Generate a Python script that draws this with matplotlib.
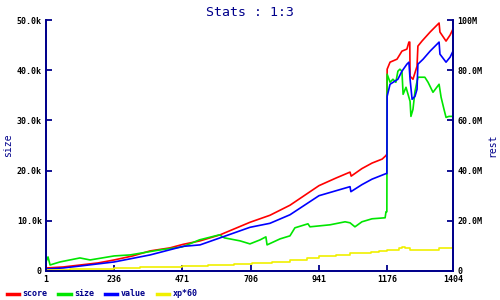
import matplotlib
matplotlib.use("Agg")
from matplotlib import pyplot as plt

# values (x = sample index, y in k)
score_x = [1, 60, 120, 180, 236, 300, 360, 428, 473, 532, 601, 704, 773, 842, 942, 1000, 1049, 1053,
           1090, 1125, 1160, 1173, 1176, 1177, 1187, 1211, 1228, 1245, 1252, 1255, 1256, 1266, 1280,
           1283, 1297, 1325, 1356, 1359, 1380, 1394, 1404]
score_y = [0.6, 0.8, 1.2, 1.6, 2.2, 3.0, 4.0, 4.6, 5.3, 6.0, 7.2, 9.7, 11.1, 13.1, 17.0, 18.5, 19.7, 18.9,
           20.4, 21.5, 22.3, 23.0, 23.3, 40.2, 41.6, 42.2, 43.8, 44.2, 45.6, 45.6, 38.8, 38.2, 40.8,
           44.8, 45.8, 47.6, 49.4, 47.6, 45.8, 47.0, 48.2]

size_x = [1, 8, 15, 49, 118, 153, 236, 291, 394, 471, 530, 599, 616, 670, 704, 739, 759, 763, 808, 842,
          859, 904, 911, 980, 1032, 1049, 1066, 1090, 1125, 1170, 1173, 1176, 1177, 1187, 1197, 1207,
          1214, 1221, 1228, 1232, 1242, 1249, 1256, 1259, 1266, 1273, 1283, 1307, 1318, 1335, 1356,
          1363, 1373, 1380, 1390, 1404]
size_y = [1.8, 2.8, 1.2, 1.8, 2.6, 2.2, 3.0, 3.2, 4.2, 4.8, 6.2, 7.2, 6.6, 6.0, 5.4, 6.2, 6.8, 5.2, 6.4, 7.0,
          8.6, 9.4, 8.8, 9.2, 9.8, 9.6, 8.8, 9.8, 10.4, 10.6, 11.8, 11.8, 39.2, 37.6, 38.2, 37.6,
          39.8, 40.2, 39.8, 35.2, 36.6, 35.2, 33.8, 30.8, 32.2, 35.8, 38.6, 38.6, 37.6, 35.6, 37.2,
          34.6, 32.2, 30.6, 30.8, 30.8]

value_x = [1, 60, 120, 236, 360, 473, 532, 601, 704, 773, 842, 942, 1049, 1052, 1090, 1125, 1173, 1176,
           1177, 1187, 1214, 1228, 1245, 1252, 1256, 1263, 1273, 1280, 1283, 1301, 1325, 1356, 1359,
           1380, 1394, 1404]
value_y = [0.4, 0.6, 1.0, 1.8, 3.2, 4.9, 5.2, 6.6, 8.7, 9.5, 11.2, 15.0, 16.8, 15.8, 17.2, 18.3, 19.4, 19.4,
           34.8, 37.2, 38.2, 39.8, 41.2, 41.6, 38.2, 34.2, 34.8, 36.2, 41.2, 42.2, 43.8, 45.6, 43.2,
           41.6, 42.6, 43.8]

xp_x = [1, 84, 236, 325, 471, 560, 650, 711, 780, 842, 900, 942, 1000, 1049, 1120, 1150, 1176, 1218,
        1228, 1238, 1256, 1356, 1404]
xp_y = [0.2, 0.4, 0.6, 0.8, 1.0, 1.2, 1.4, 1.6, 1.8, 2.2, 2.6, 3.0, 3.2, 3.6, 3.8, 4.0, 4.2, 4.5,
        4.7, 4.5, 4.2, 4.5, 4.5]

x_ticks = [1, 236, 471, 706, 941, 1176, 1404]
left_ticks = [0, 10, 20, 30, 40, 50]
left_labels = ["0", "10.0k", "20.0k", "30.0k", "40.0k", "50.0k"]
right_labels = ["0", "20.0M", "40.0M", "60.0M", "80.0M", "100M"]

NAVY = "#00008b"
MONO = "DejaVu Sans Mono"

fig = plt.figure(figsize=(5, 3), dpi=100)
ax = fig.add_axes([0.092, 0.0967, 0.814, 0.8366])

ax.plot(score_x, score_y, color="#ff0000", lw=1.2, label="score")
ax.plot(size_x, size_y, color="#00e600", lw=1.2, label="size")
ax.plot(value_x, value_y, color="#0000ff", lw=1.2, label="value")
ax.plot(xp_x, xp_y, color="#f0f000", lw=1.2, drawstyle="steps-post", label="xp*60")

ax.set_xlim(1, 1404)
ax.set_ylim(0, 50)
ax.set_xticks(x_ticks)
ax.set_xticklabels([str(v) for v in x_ticks])
ax.set_yticks(left_ticks)
ax.set_yticklabels(left_labels)

ax2 = ax.twinx()
ax2.set_ylim(0, 50)
ax2.set_yticks(left_ticks)
ax2.set_yticklabels(right_labels)

for a in (ax, ax2):
    a.spines["top"].set_visible(False)
    for s in ("left", "right", "bottom"):
        a.spines[s].set_color(NAVY)
        a.spines[s].set_linewidth(1.3)
    a.tick_params(direction="in", length=4, width=1.3, color=NAVY, labelsize=6, pad=3)
    for lab in a.get_xticklabels() + a.get_yticklabels():
        lab.set_fontfamily(MONO)
        lab.set_fontweight("bold")
        lab.set_color("black")

ax.set_ylabel("size", color=NAVY, fontsize=7, fontfamily=MONO, labelpad=3)
ax2.set_ylabel("rest", color=NAVY, fontsize=7, fontfamily=MONO, labelpad=4)

fig.text(0.5, 0.96, "Stats : 1:3", ha="center", va="center", color=NAVY, fontsize=9.5, fontfamily=MONO)

leg = fig.legend(loc="lower left", bbox_to_anchor=(-0.002, -0.02), ncol=4, frameon=False,
                 prop={"family": MONO, "size": 6, "weight": "bold"}, handlelength=1.5,
                 handletextpad=0.4, columnspacing=1.3)
for line in leg.get_lines():
    line.set_linewidth(2.5)
for t in leg.get_texts():
    t.set_color(NAVY)

fig.savefig("out.png", dpi=100)
